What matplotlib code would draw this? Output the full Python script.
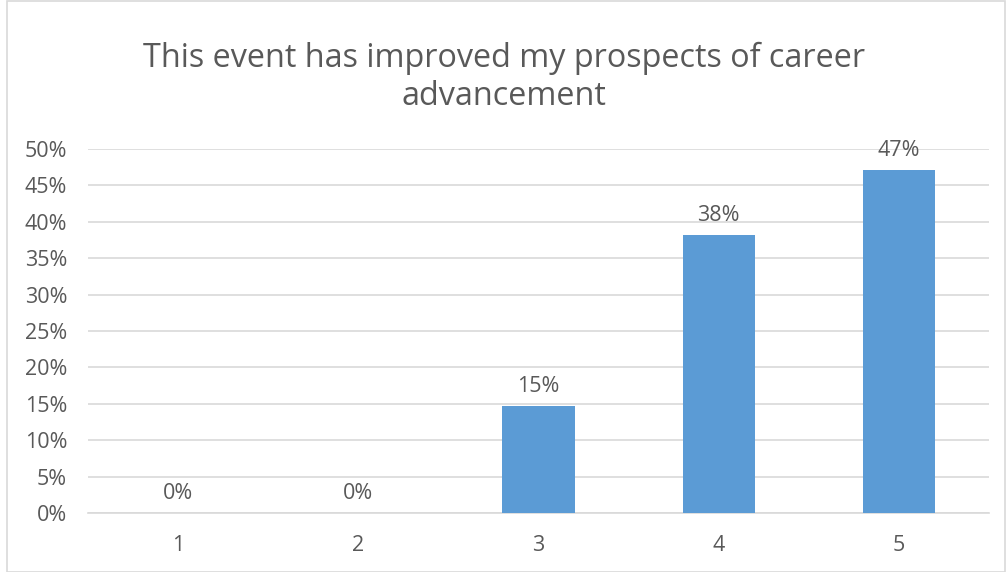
import matplotlib.pyplot as plt
import numpy as np

categories = ['1', '2', '3', '4', '5']
values = [0.0, 0.0, 14.7, 38.2, 47.1]
labels = ['0%', '0%', '15%', '38%', '47%']
yticks = [0, 5, 10, 15, 20, 25, 30, 35, 40, 45, 50]

plt.rcParams['font.family'] = ['Open Sans', 'DejaVu Sans']
text_color = '#595959'

fig = plt.figure(figsize=(10.08, 5.72), dpi=100)
ax = fig.add_axes([88 / 1008, 59 / 572, 901 / 1008, 364 / 572])

x = np.arange(len(categories))
ax.bar(x, values, width=0.4, color='#5B9BD5', zorder=3)

for xi, v, lab in zip(x, values, labels):
    ax.text(xi, v + 1.2, lab, ha='center', va='bottom', fontsize=15.5, color=text_color)

ax.set_xlim(-0.5, len(categories) - 0.5)
ax.set_ylim(0, 50)
ax.set_xticks(x)
ax.set_xticklabels(categories)
ax.set_yticks(yticks)
ax.set_yticklabels([f'{t}%' for t in yticks])
ax.tick_params(axis='both', length=0, labelsize=15.5, labelcolor=text_color)
ax.tick_params(axis='y', pad=15)
ax.tick_params(axis='x', pad=16)
ax.yaxis.grid(True, color='#D9D9D9', linewidth=1.2, zorder=0)
for s in ['top', 'right', 'left']:
    ax.spines[s].set_visible(False)
ax.spines['bottom'].set_color('#D9D9D9')
ax.spines['bottom'].set_linewidth(1.2)

fig.text(0.5, 0.865, 'This event has improved my prospects of career\nadvancement',
         ha='center', va='center', fontsize=23.3, color=text_color, linespacing=1.22)

# light border around the whole chart
fig.patches.append(plt.Rectangle((0.007, 0.0), 0.99, 0.999, transform=fig.transFigure,
                                 fill=False, edgecolor='#D9D9D9', linewidth=1.2))

fig.savefig('out.png', dpi=100)
